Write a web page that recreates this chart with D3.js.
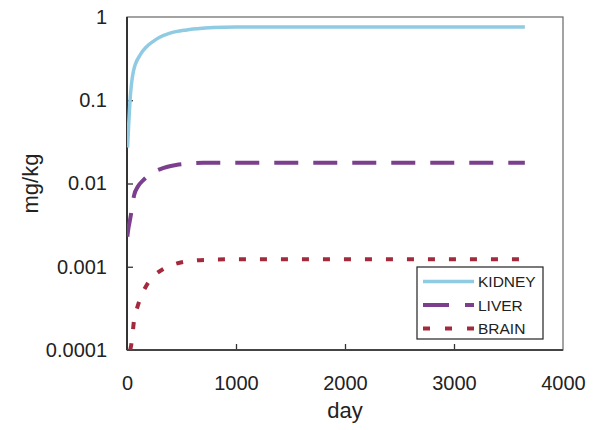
<!DOCTYPE html>
<html>
<head>
<meta charset="utf-8">
<script src="https://cdn.jsdelivr.net/npm/d3@7/dist/d3.min.js"></script>
<style>
  body { margin: 0; background: #fff; }
  svg { display: block; font-family: "Liberation Sans", Arial, sans-serif; }
</style>
</head>
<body>
<div id="chart"></div>
<script>
// values: [day, mg/kg]
var kidney = [[5, 0.027], [15, 0.05], [27, 0.096], [58, 0.22], [120, 0.35], [180, 0.44],
  [241, 0.51], [300, 0.57], [394, 0.64], [547, 0.70], [700, 0.735], [790, 0.75],
  [1000, 0.76], [2000, 0.76], [3650, 0.76]];
var liver = [[3, 0.0023], [15, 0.003], [30, 0.0038], [45, 0.005], [65, 0.0072], [100, 0.0092],
  [150, 0.011], [227, 0.0133], [300, 0.0148], [364, 0.0158], [450, 0.0167], [578, 0.0174],
  [700, 0.0177], [1000, 0.0178], [2000, 0.0178], [3650, 0.0178]];
var brain = [[30, 0.0001], [45, 0.00013], [65, 0.00023], [90, 0.00031], [126, 0.00043],
  [180, 0.0006], [240, 0.00076], [340, 0.00095], [440, 0.00108], [630, 0.00119],
  [820, 0.00122], [1000, 0.00123], [2000, 0.00123], [3650, 0.00123]];

var seriesNames = ["KIDNEY", "LIVER", "BRAIN"];
var xTicks = [0, 1000, 2000, 3000, 4000];
var yTicks = [0.0001, 0.001, 0.01, 0.1, 1];
var yTickLabels = ["0.0001", "0.001", "0.01", "0.1", "1"];

var width = 595, height = 430;
var margin = { top: 17, right: 32, bottom: 80, left: 127 };
var plotW = width - margin.left - margin.right;
var plotH = height - margin.top - margin.bottom;

var styles = [
  { color: "#8fcbe3", width: 3.5, dash: null, legendDash: null },
  { color: "#7b3f8d", width: 4, dash: "24,15", legendDash: "26,16" },
  { color: "#a32a3c", width: 4, dash: "7,14", legendDash: "7,15" }
];

var svg = d3.select("#chart").append("svg")
  .attr("width", width)
  .attr("height", height);

var x = d3.scaleLinear().domain([0, 4000]).range([0, plotW]);
var y = d3.scaleLog().domain([0.0001, 1]).range([plotH, 0]);

var chart = svg.append("g")
  .attr("transform", "translate(" + margin.left + "," + margin.top + ")");

chart.append("clipPath").attr("id", "clip")
  .append("rect").attr("width", plotW).attr("height", plotH);

// x & y axis, ticks pointing inward
var xAxis = chart.append("g")
  .attr("transform", "translate(0," + plotH + ")")
  .call(d3.axisBottom(x).tickValues(xTicks).tickSizeInner(-6).tickSizeOuter(0).tickPadding(26)
    .tickFormat(d3.format("d")));
var yAxis = chart.append("g")
  .call(d3.axisLeft(y).tickValues(yTicks).tickSizeInner(-6).tickSizeOuter(0).tickPadding(20)
    .tickFormat(function (d, i) { return yTickLabels[i]; }));

[xAxis, yAxis].forEach(function (a) {
  a.select(".domain").remove();
  a.selectAll("line").attr("stroke", "#333").attr("stroke-width", 1.3);
  a.selectAll("text").attr("font-size", 20).attr("fill", "#222")
    .attr("font-family", "'Liberation Sans', Arial, sans-serif");
});
// hide ticks at the frame edges
xAxis.selectAll(".tick line").filter(function (d) { return d === 0 || d === 4000; }).remove();
yAxis.selectAll(".tick line").filter(function (d) { return d === 0.0001 || d === 1; }).remove();

// frame
chart.append("rect")
  .attr("width", plotW).attr("height", plotH)
  .attr("fill", "none").attr("stroke", "#666").attr("stroke-width", 1.2);
chart.append("line").attr("x1", 0).attr("x2", 0).attr("y1", 0).attr("y2", plotH)
  .attr("stroke", "#333").attr("stroke-width", 2);
chart.append("line").attr("x1", 0).attr("x2", plotW).attr("y1", plotH).attr("y2", plotH)
  .attr("stroke", "#444").attr("stroke-width", 1.8);

var line = d3.line()
  .x(function (d) { return x(d[0]); })
  .y(function (d) { return y(d[1]); })
  .curve(d3.curveMonotoneX);

[kidney, liver, brain].forEach(function (data, i) {
  chart.append("path")
    .datum(data)
    .attr("clip-path", "url(#clip)")
    .attr("fill", "none")
    .attr("stroke", styles[i].color)
    .attr("stroke-width", styles[i].width)
    .attr("stroke-dasharray", styles[i].dash)
    .attr("d", line);
});

// legend
var legend = chart.append("g").attr("transform", "translate(" + (417 - margin.left) + "," + (267 - margin.top) + ")");
legend.append("rect")
  .attr("width", 126).attr("height", 72)
  .attr("fill", "#fff").attr("stroke", "#222").attr("stroke-width", 1.2);
seriesNames.forEach(function (name, i) {
  var ly = 14.5 + i * 23.5;
  legend.append("line")
    .attr("x1", 6).attr("x2", 57).attr("y1", ly).attr("y2", ly)
    .attr("stroke", styles[i].color)
    .attr("stroke-width", styles[i].width)
    .attr("stroke-dasharray", styles[i].legendDash);
  legend.append("text")
    .attr("x", 61).attr("y", ly).attr("dy", "0.36em")
    .attr("font-size", 15.5).attr("fill", "#222")
    .text(name);
});

// axis titles
svg.append("text")
  .attr("x", margin.left + plotW / 2).attr("y", 418)
  .attr("text-anchor", "middle").attr("font-size", 22).attr("fill", "#222")
  .text("day");
svg.append("text")
  .attr("transform", "translate(38," + (margin.top + plotH / 2) + ") rotate(-90)")
  .attr("text-anchor", "middle").attr("font-size", 22).attr("fill", "#222")
  .text("mg/kg");
</script>
</body>
</html>
